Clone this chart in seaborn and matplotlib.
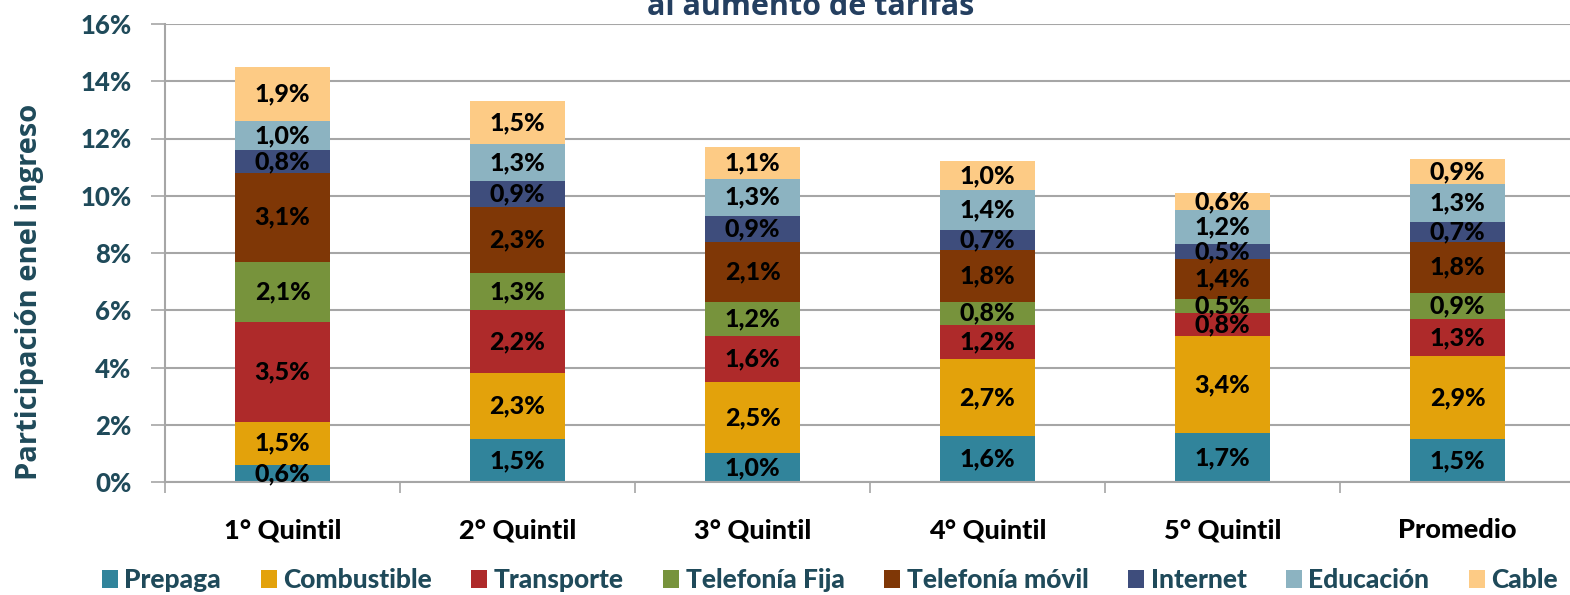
"""
Participación en el ingreso del aumento de tarifas, por quintil
"""
import numpy as np
import pandas as pd
import matplotlib
matplotlib.use("Agg")
import matplotlib.pyplot as plt
from matplotlib.patches import Patch
import seaborn as sns

# categories and series (values in % of income)
quintiles = ['1° Quintil', '2° Quintil', '3° Quintil', '4° Quintil', '5° Quintil', 'Promedio']
series_names = ['Prepaga', 'Combustible', 'Transporte', 'Telefonía Fija',
                'Telefonía móvil', 'Internet', 'Educación', 'Cable']

prepaga = [0.6, 1.5, 1.0, 1.6, 1.7, 1.5]
combustible = [1.5, 2.3, 2.5, 2.7, 3.4, 2.9]
transporte = [3.5, 2.2, 1.6, 1.2, 0.8, 1.3]
telefonia_fija = [2.1, 1.3, 1.2, 0.8, 0.5, 0.9]
telefonia_movil = [3.1, 2.3, 2.1, 1.8, 1.4, 1.8]
internet = [0.8, 0.9, 0.9, 0.7, 0.5, 0.7]
educacion = [1.0, 1.3, 1.3, 1.4, 1.2, 1.3]
cable = [1.9, 1.5, 1.1, 1.0, 0.6, 0.9]

y_ticks = [0, 2, 4, 6, 8, 10, 12, 14, 16]

colors = ['#31849B', '#E3A20B', '#AE2A2A', '#77933C',
          '#7F3706', '#3E4D7C', '#8CB3C1', '#FDCB85']

TEAL_TXT = '#1F4A5A'
TITLE_TXT = '#243F60'
HEAVY = 'black'

sns.set_theme(style='white')
plt.rcParams['font.family'] = ['Lato', 'DejaVu Sans']

df = pd.DataFrame({'Quintil': quintiles, 'Prepaga': prepaga, 'Combustible': combustible,
                   'Transporte': transporte, 'Telefonía Fija': telefonia_fija,
                   'Telefonía móvil': telefonia_movil, 'Internet': internet,
                   'Educación': educacion, 'Cable': cable})

fig = plt.figure(figsize=(15.7, 5.95), dpi=100)
ax = fig.add_axes([165 / 1570, 1 - 482 / 595, 1410 / 1570, 458 / 595])

bottom = np.zeros(len(quintiles))
for name, col in zip(series_names, colors):
    vals = df[name].to_numpy()
    sns.barplot(data=df, x='Quintil', y=name, color=col, bottom=bottom,
                width=0.405, errorbar=None, ax=ax, linewidth=0, saturation=1)
    cont = ax.containers[-1]
    ax.bar_label(cont, labels=[f'{v:.1f}%'.replace('.', ',') for v in vals],
                 label_type='center', fontsize=18, fontweight=HEAVY, color='black')
    bottom = bottom + vals

ax.set_xlim(-0.5, 5.5)
ax.set_ylim(0, 16)
ax.set_yticks(y_ticks)
ax.set_yticklabels([f'{t}%' for t in y_ticks], fontsize=18.5, fontweight=HEAVY, color=TEAL_TXT)
ax.set_axisbelow(True)
ax.yaxis.grid(True, color='#A6A6A6', linewidth=1.5)
ax.tick_params(axis='y', length=10, width=1.2, color='#A6A6A6', pad=14, left=True)

ax.set_xlabel('')
ax.set_ylabel('')
ax.set_xticks(range(len(quintiles)))
ax.set_xticklabels(quintiles, fontsize=19.5, fontweight=HEAVY, color='black')
ax.tick_params(axis='x', which='major', length=0, pad=26)
ax.set_xticks(np.arange(-0.5, 6, 1), minor=True)
ax.tick_params(axis='x', which='minor', length=8, width=1.2, color='#A6A6A6', bottom=True)

for s in ['top', 'right']:
    ax.spines[s].set_visible(False)
for s in ['left', 'bottom']:
    ax.spines[s].set_color('#A6A6A6')
    ax.spines[s].set_linewidth(1.5)

fig.text(30 / 1570, 1 - 292 / 595, 'Participación enel ingreso', rotation=90,
         ha='center', va='center', fontsize=21, fontweight='bold', color=TEAL_TXT,
         family=['Open Sans', 'DejaVu Sans'])

fig.text(811 / 1570, 1 - 15 / 595, 'al aumento de tarifas', ha='center', va='baseline',
         fontsize=22, fontweight='bold', color=TITLE_TXT, family=['Open Sans', 'DejaVu Sans'])

handles = [Patch(facecolor=c, edgecolor='none') for c in colors]
leg = fig.legend(handles, series_names, loc='center', bbox_to_anchor=(830 / 1570, 1 - 580 / 595),
                 ncol=8, frameon=False, fontsize=19, handlelength=0.6, handleheight=0.7,
                 handletextpad=0.25, columnspacing=1.5)
for t in leg.get_texts():
    t.set_color(TEAL_TXT)
    t.set_fontweight(HEAVY)

fig.savefig('out.png', dpi=100)
